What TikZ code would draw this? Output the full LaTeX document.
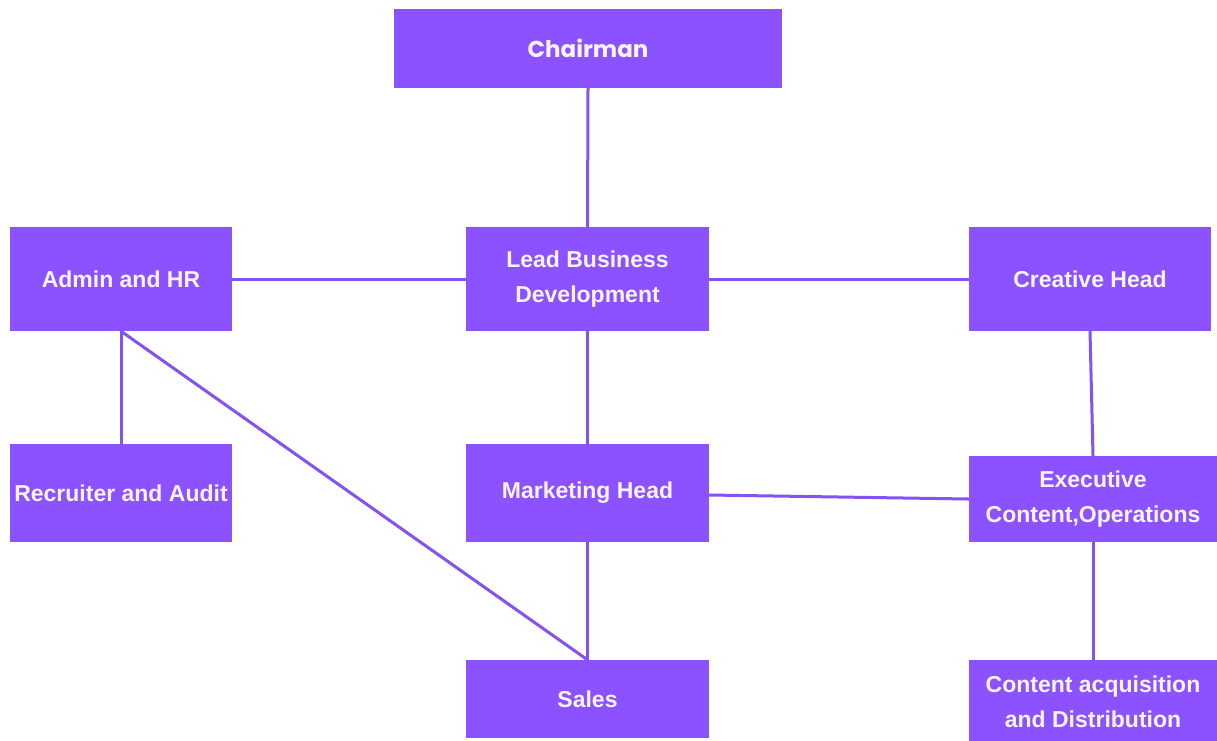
\documentclass[tikz,border=0pt]{standalone}
\usepackage{fontspec}
\setmainfont{Liberation Sans}
\newfontfamily\chairfont{Poppins}
\definecolor{boxfill}{HTML}{8C52FF}
\definecolor{linecol}{HTML}{8452F2}
\definecolor{txt}{HTML}{F8F4FF}
\begin{document}
\begin{tikzpicture}[x=1pt,y=-1pt,
  orgbox/.style={draw=none,fill=boxfill,inner sep=0pt,align=center,text=txt,
    font=\fontsize{23}{35}\selectfont\bfseries},
  link/.style={draw=linecol,line width=3pt}]
\useasboundingbox (0,0) rectangle (1217,740);
\fill[white] (0,0) rectangle (1217,740);
\node[orgbox,minimum width=388pt,minimum height=79pt,font=\chairfont\fontsize{23}{35}\selectfont\bfseries] (chair) at (588,48.5) {Chairman};
\node[orgbox,minimum width=222pt,minimum height=104pt] (admin) at (121,279) {Admin and HR};
\node[orgbox,minimum width=243pt,minimum height=104pt] (lead) at (587.5,279) {Lead Business\\Development};
\node[orgbox,minimum width=242pt,minimum height=104pt] (creative) at (1090,279) {Creative Head};
\node[orgbox,minimum width=222pt,minimum height=98pt] (recruit) at (121,493) {Recruiter and Audit};
\node[orgbox,minimum width=243pt,minimum height=98pt] (mkt) at (587.5,493) {Marketing Head};
\node[orgbox,minimum width=248pt,minimum height=86pt] (exec) at (1093,499) {Executive\\Content,Operations};
\node[orgbox,minimum width=248pt,minimum height=84pt] (content) at (1093,702) {Content acquisition\\and Distribution};
\node[orgbox,minimum width=243pt,minimum height=78pt] (sales) at (587.5,699) {Sales};
\draw[link] (chair.south) -- (lead.north);
\draw[link] (admin.east) -- (lead.west);
\draw[link] (lead.east) -- (creative.west);
\draw[link] (lead.south) -- (mkt.north);
\draw[link] (admin.south) -- (recruit.north);
\draw[link] (admin.south) -- (sales.north);
\draw[link] (mkt.south) -- (sales.north);
\draw[link] ([yshift=-2pt]mkt.east) -- (exec.west);
\draw[link] (creative.south) -- (exec.north);
\draw[link] (exec.south) -- (content.north);
\end{tikzpicture}
\end{document}
